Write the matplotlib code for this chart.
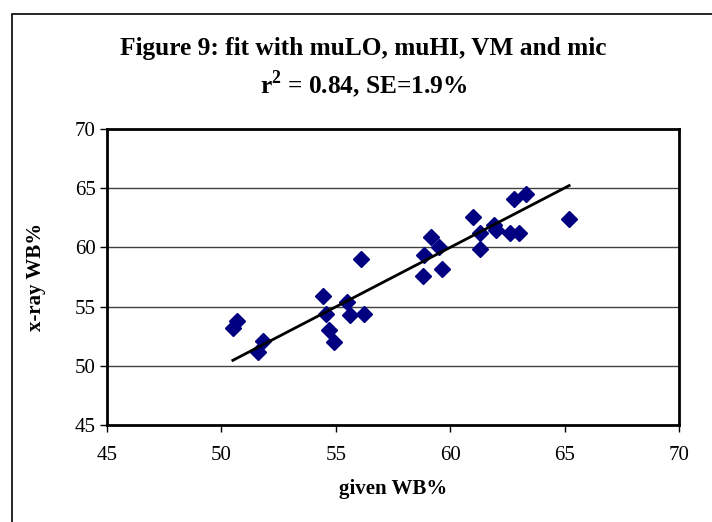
import matplotlib
matplotlib.use("Agg")
import matplotlib.pyplot as plt
from matplotlib.patches import Rectangle

plt.rcParams["font.family"] = ["Liberation Serif", "DejaVu Serif"]
plt.rcParams["mathtext.fontset"] = "custom"
plt.rcParams["mathtext.rm"] = "Liberation Serif"
plt.rcParams["mathtext.bf"] = "Liberation Serif:bold"

# given WB% vs x-ray WB% for each sample
given_wb = [50.5, 50.7, 51.6, 51.8, 54.45, 54.55, 54.7, 54.9, 55.5, 55.6,
            56.1, 56.25, 58.8, 58.85, 59.15, 59.5, 59.65, 61.0, 61.3, 61.3,
            61.9, 62.0, 62.6, 62.8, 63.0, 63.3, 65.2]
xray_wb = [53.2, 53.8, 51.2, 52.1, 55.9, 54.4, 53.0, 52.0, 55.4, 54.3,
           59.0, 54.35, 57.6, 59.35, 60.9, 60.05, 58.2, 62.6, 61.2, 59.9,
           61.9, 61.5, 61.25, 64.1, 61.2, 64.5, 62.4]

# linear trend line over the range of given values
fit_slope = 1.004
fit_intercept = -0.24
fit_x = [min(given_wb), max(given_wb)]

title_line1 = "Figure 9: fit with muLO, muHI, VM and mic"
title_line2 = r"r$^{\mathbf{2}}$ = 0.84, SE=1.9%"
ticks = [45, 50, 55, 60, 65, 70]

fig = plt.figure(figsize=(7.12, 5.22), dpi=100)
fig.patch.set_facecolor("white")

# chart border
fig.patches.append(Rectangle((12 / 712, -0.05), 1.2, (522 - 14) / 522 + 0.05,
                             transform=fig.transFigure, fill=False,
                             edgecolor="black", linewidth=1.2))

ax = fig.add_axes([107 / 712, (522 - 425) / 522, 572 / 712, 296 / 522])
for y in ticks[1:-1]:
    ax.axhline(y, color="#404040", linewidth=1.0, zorder=1)

ax.plot(given_wb, xray_wb, linestyle="none", marker="D", markersize=8.5,
        color="#000080", markeredgecolor="#000080", zorder=3)
fit_y = [fit_slope * x + fit_intercept for x in fit_x]
ax.plot(fit_x, fit_y, color="black", linewidth=2.0, zorder=4)

ax.set_xlim(45, 70)
ax.set_ylim(45, 70)
ax.set_xticks(ticks)
ax.set_yticks(ticks)
for s in ax.spines.values():
    s.set_linewidth(2.0)
ax.tick_params(direction="out", length=5, width=1, labelsize=15)
ax.tick_params(axis="x", pad=10)
ax.tick_params(axis="y", pad=3)

ax.set_xlabel("given WB%", fontsize=15, fontweight="bold", labelpad=10)
ax.set_ylabel("x-ray WB%", fontsize=15, fontweight="bold", labelpad=21)

title_x = 363.5 / 712
fig.text(title_x, 1 - 49 / 522, title_line1, ha="center", va="center",
         fontsize=18.3, fontweight="bold")
fig.text(title_x, 1 - 85 / 522, title_line2, ha="center", va="center",
         fontsize=18.3, fontweight="bold")

fig.savefig("out.png", dpi=100)
